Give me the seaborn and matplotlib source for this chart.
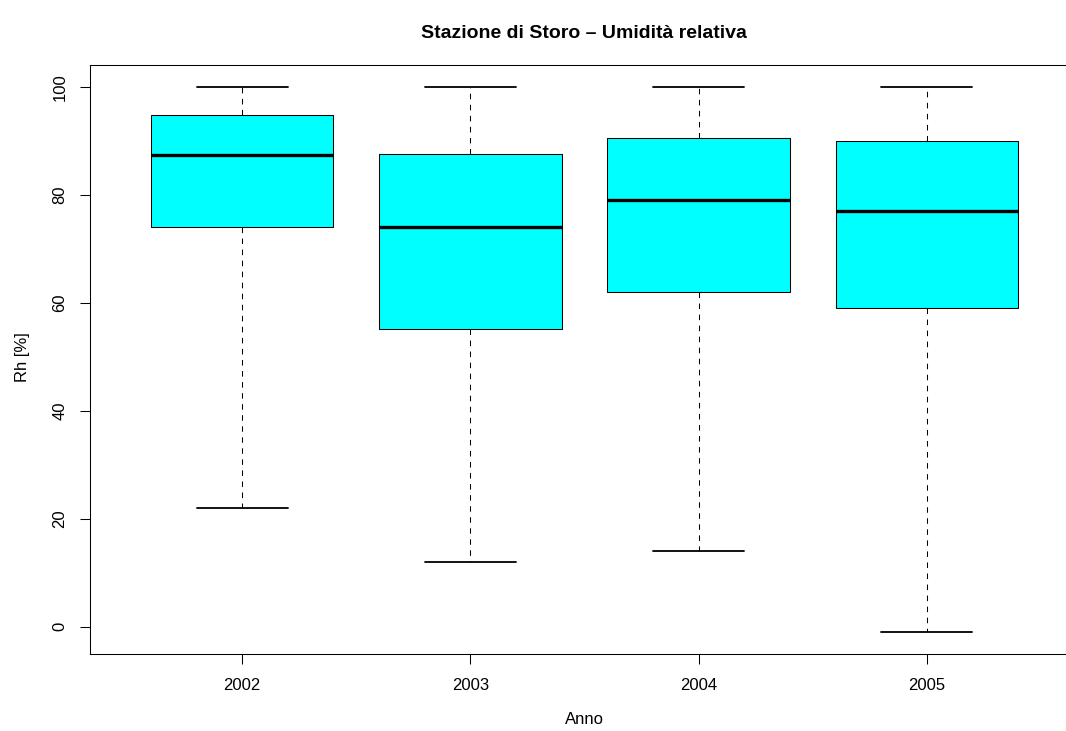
import pandas as pd
import seaborn as sns
import matplotlib
matplotlib.use('Agg')
import matplotlib.pyplot as plt

# values (whisker low, Q1, median, Q3, whisker high)
years = ["2002", "2003", "2004", "2005"]
low = [22, 12, 14, -1]
q1 = [74.1, 55.1, 62.0, 59.1]
median = [87.4, 74.0, 79.0, 77.0]
q3 = [94.8, 87.5, 90.6, 90.0]
high = [100, 100, 100, 100]

rows = []
for i, yr in enumerate(years):
    for v in (low[i], q1[i], median[i], q3[i], high[i]):
        rows.append({"Anno": yr, "Rh": v})
df = pd.DataFrame(rows)

sns.set_theme(style="ticks")
plt.rcParams['font.family'] = ['Liberation Sans', 'DejaVu Sans']
plt.rcParams['text.color'] = 'black'
plt.rcParams['axes.labelcolor'] = 'black'
plt.rcParams['savefig.bbox'] = 'standard'

fig = plt.figure(figsize=(10.66, 7.31), dpi=100)
# the reference frame is cut off at the right edge of the image
ax = fig.add_axes([90 / 1066, 1 - 654 / 731, 976 / 1066, 589 / 731])

sns.boxplot(data=df, x="Anno", y="Rh", order=years, ax=ax,
            whis=(0, 100), width=0.8, color="#00ffff", saturation=1,
            linecolor="black", linewidth=0.75, showfliers=False,
            medianprops={"linewidth": 2.4, "color": "black"},
            whiskerprops={"linestyle": (0, (5.3, 5.3)), "linewidth": 0.75},
            capprops={"linewidth": 1.3})

ax.set_xlim(-0.667, 3.61)
ax.set_ylim(-5.04, 104.04)
ax.set_yticks([0, 20, 40, 60, 80, 100])

for side in ["left", "top", "bottom"]:
    ax.spines[side].set_visible(True)
    ax.spines[side].set_color("black")
    ax.spines[side].set_linewidth(0.75)
ax.spines["right"].set_visible(False)

ax.tick_params(axis="both", direction="out", length=7.2, width=0.75,
               labelsize=12, colors="black")
ax.tick_params(axis="x", pad=10)
ax.tick_params(axis="y", pad=9)
plt.setp(ax.get_yticklabels(), rotation=90, va="center")

ax.set_xlabel("Anno", fontsize=12, color="black")
ax.set_ylabel("Rh [%]", fontsize=12, color="black")
ax.xaxis.set_label_coords((584 - 90) / 976, (654 - 719) / 589)
ax.xaxis.label.set_va("center")
ax.yaxis.set_label_coords((23 - 90) / 976, (654 - 357) / 589)
ax.yaxis.label.set_va("center")
ax.yaxis.label.set_ha("center")

ax.set_title("Stazione di Storo \u2013 Umidità relativa", fontsize=14,
             fontweight="bold", color="black", x=(584 - 90) / 976,
             y=(654 - 33) / 589, va="center", pad=0)

fig.savefig("out.png", dpi=100, facecolor="white", bbox_inches=None)
